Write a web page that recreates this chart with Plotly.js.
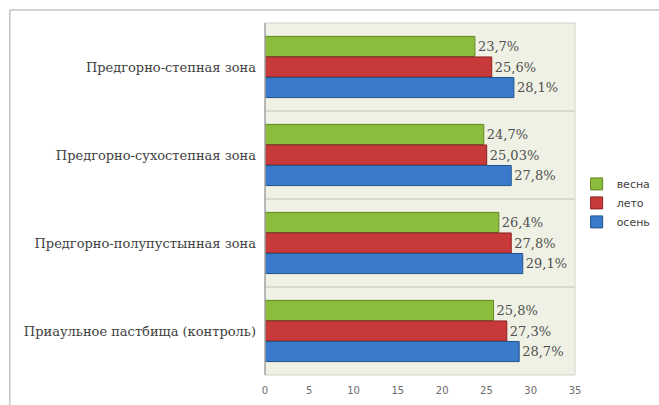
<!DOCTYPE html>
<html>
<head>
<meta charset="utf-8">
<script src="https://cdn.plot.ly/plotly-3.0.1.min.js"></script>
<style>html,body{margin:0;padding:0;background:#fff;}#chart{width:659px;height:405px;}</style>
</head>
<body>
<div id="chart"></div>
<script>
const categories = [
  "Предгорно-степная зона",
  "Предгорно-сухостепная зона",
  "Предгорно-полупустынная зона",
  "Приаульное пастбища (контроль)"
];
const seriesNames = ["весна", "лето", "осень"];
const vesna = [23.7, 24.7, 26.4, 25.8];
const leto = [25.6, 25.03, 27.8, 27.3];
const osen = [28.1, 27.8, 29.1, 28.7];
const xTicks = [0, 5, 10, 15, 20, 25, 30, 35];

const serif = 'DejaVu Serif';
const colors = ["#8cbc3c", "#c8393a", "#3a7acb"];
const lineColors = ["#5f8a22", "#8e2222", "#24538f"];
const fmt = v => String(v).replace('.', ',') + '%';

const traces = [vesna, leto, osen].map((vals, i) => ({
  type: 'bar',
  orientation: 'h',
  name: seriesNames[i],
  y: categories,
  x: vals,
  text: vals.map(fmt),
  textposition: 'outside',
  cliponaxis: false,
  textfont: {family: serif, size: 13, color: '#505050'},
  marker: {color: colors[i], line: {color: lineColors[i], width: 1}},
  hoverinfo: 'none'
}));

const layout = {
  width: 659, height: 405,
  margin: {l: 265, r: 84, t: 23, b: 30, autoexpand: false},
  paper_bgcolor: '#ffffff',
  plot_bgcolor: '#eef1e4',
  barmode: 'group',
  bargap: 0.3,
  bargroupgap: 0.02,
  showlegend: true,
  legend: {
    xref: 'container', yref: 'container',
    x: 0.875, xanchor: 'left', y: 0.499, yanchor: 'middle',
    font: {family: 'DejaVu Sans, sans-serif', size: 11, color: '#404040'},
    itemwidth: 30, tracegroupgap: 0, bgcolor: 'rgba(0,0,0,0)'
  },
  xaxis: {
    range: [0, 35], tickvals: xTicks, ticktext: xTicks.map(String),
    showgrid: false, zeroline: false, showline: false, ticks: '',
    ticklabelstandoff: 8,
    tickfont: {family: 'DejaVu Sans, sans-serif', size: 10, color: '#6b6b6b'},
    fixedrange: true
  },
  yaxis: {
    autorange: 'reversed', type: 'category',
    showgrid: false, zeroline: false, showline: false, ticks: '',
    ticklabelstandoff: 8,
    tickfont: {family: serif, size: 13, color: '#404040'},
    fixedrange: true
  },
  shapes: [
    {type: 'line', xref: 'paper', yref: 'paper', x0: -0.823, x1: 1.4, y0: 1.037, y1: 1.037, line: {color: '#a6a6a6', width: 1}},
    {type: 'line', xref: 'paper', yref: 'paper', x0: -0.823, x1: -0.823, y0: 1.037, y1: -0.2, line: {color: '#a6a6a6', width: 1}},
    {type: 'rect', xref: 'paper', yref: 'paper', x0: 0, x1: 1, y0: 0, y1: 1, line: {color: '#d0d3c8', width: 1}},
    {type: 'line', xref: 'paper', yref: 'paper', x0: 0, x1: 0, y0: 0, y1: 1, line: {color: '#8a8a8a', width: 1}},
    {type: 'line', xref: 'paper', yref: 'y', x0: 0, x1: 1, y0: 0.5, y1: 0.5, line: {color: '#bfc2b8', width: 1}, layer: 'below'},
    {type: 'line', xref: 'paper', yref: 'y', x0: 0, x1: 1, y0: 1.5, y1: 1.5, line: {color: '#bfc2b8', width: 1}, layer: 'below'},
    {type: 'line', xref: 'paper', yref: 'y', x0: 0, x1: 1, y0: 2.5, y1: 2.5, line: {color: '#bfc2b8', width: 1}, layer: 'below'}
  ]
};

Plotly.newPlot('chart', traces, layout, {displayModeBar: false, staticPlot: true});
</script>
</body>
</html>
